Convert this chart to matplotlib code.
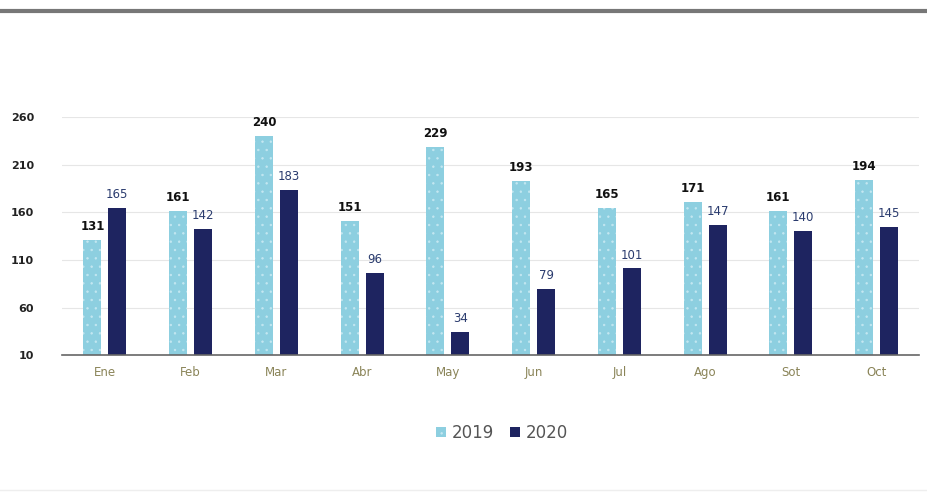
import numpy as np
import matplotlib.pyplot as plt
from matplotlib.lines import Line2D

months = ['Ene', 'Feb', 'Mar', 'Abr', 'May', 'Jun', 'Jul', 'Ago', 'Sot', 'Oct']
v2019 = [131, 161, 240, 151, 229, 193, 165, 171, 161, 194]
v2020 = [165, 142, 183, 96, 34, 79, 101, 147, 140, 145]
yticks = [10, 60, 110, 160, 210, 260]

LIGHT = '#8dcfe0'
DARK = '#1e2460'

plt.rcParams['hatch.linewidth'] = 0.5

fig = plt.figure(figsize=(9.28, 4.96), dpi=100)
ax = fig.add_axes([0.0668, 0.284, 0.924, 0.48])

x = np.arange(len(months))
off = 0.145
w = 0.21
b1 = ax.bar(x - off, np.array(v2019) - 10, w, bottom=10, color=LIGHT,
            edgecolor='#c4e7f1', hatch='..', linewidth=0, label='2019', zorder=2)
b2 = ax.bar(x + off, np.array(v2020) - 10, w, bottom=10, color=DARK,
            linewidth=0, label='2020', zorder=2)

for xi, v in zip(x, v2019):
    ax.annotate(str(v), (xi - off, v), xytext=(0, 5), textcoords='offset points',
                ha='center', va='bottom', fontsize=8.5, fontweight='bold',
                color='#111111', annotation_clip=False)
for xi, v in zip(x, v2020):
    ax.annotate(str(v), (xi + off, v), xytext=(0, 5), textcoords='offset points',
                ha='center', va='bottom', fontsize=8.5,
                color='#2a3b6e', annotation_clip=False)

ax.set_xlim(-0.5, 9.5)
ax.set_ylim(10, 260)
ax.set_yticks(yticks)
ax.set_yticklabels([str(t) for t in yticks], fontsize=8, fontweight='bold', color='#222222')
ax.set_xticks(x)
ax.set_xticklabels(months, fontsize=8.5, color='#8a8458')
ax.tick_params(axis='both', length=0)
ax.tick_params(axis='y', pad=20)
ax.tick_params(axis='x', pad=8)
ax.grid(axis='y', color='#e6e6e6', linewidth=0.8, zorder=0)
for s in ['top', 'right', 'left']:
    ax.spines[s].set_visible(False)
ax.spines['bottom'].set_color('#666666')
ax.spines['bottom'].set_linewidth(1.2)

# top rule across the page
fig.add_artist(Line2D([0.002, 1.0], [0.977, 0.977], color='#777777', linewidth=3,
                      transform=fig.transFigure))
fig.add_artist(Line2D([0.0, 1.0], [0.012, 0.012], color='#eeeeee', linewidth=1,
                      transform=fig.transFigure))

leg = fig.legend(handles=[b1, b2], loc='center', bbox_to_anchor=(0.541, 0.127),
                 ncol=2, frameon=False, fontsize=12, handlelength=0.6,
                 handleheight=0.6, handletextpad=0.3, columnspacing=1.0)
for t in leg.get_texts():
    t.set_color('#555555')

fig.savefig('out.png', dpi=100)
